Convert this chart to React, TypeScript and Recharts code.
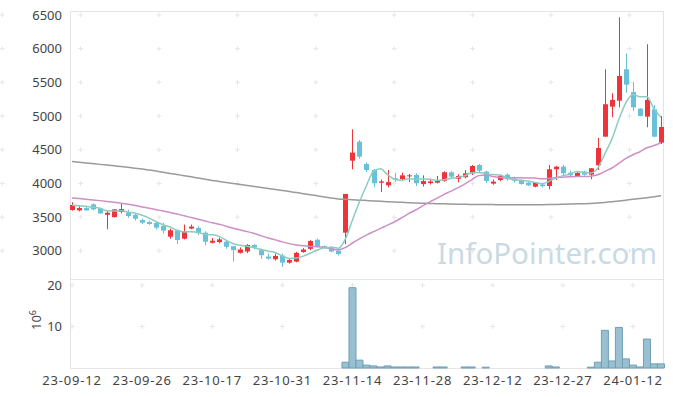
import React from "react";
import {
  ComposedChart,
  Bar,
  Line,
  Scatter,
  XAxis,
  YAxis,
} from "recharts";

// trading days (KRX calendar), one candle each
const dates = [
  "23-09-12", "23-09-13", "23-09-14", "23-09-15", "23-09-18", "23-09-19", "23-09-20", "23-09-21", "23-09-22", "23-09-25",
  "23-09-26", "23-09-27", "23-10-04", "23-10-05", "23-10-06", "23-10-10", "23-10-11", "23-10-12", "23-10-13", "23-10-16",
  "23-10-17", "23-10-18", "23-10-19", "23-10-20", "23-10-23", "23-10-24", "23-10-25", "23-10-26", "23-10-27", "23-10-30",
  "23-10-31", "23-11-01", "23-11-02", "23-11-03", "23-11-06", "23-11-07", "23-11-08", "23-11-09", "23-11-10", "23-11-13",
  "23-11-14", "23-11-15", "23-11-16", "23-11-17", "23-11-20", "23-11-21", "23-11-22", "23-11-23", "23-11-24", "23-11-27",
  "23-11-28", "23-11-29", "23-11-30", "23-12-01", "23-12-04", "23-12-05", "23-12-06", "23-12-07", "23-12-08", "23-12-11",
  "23-12-12", "23-12-13", "23-12-14", "23-12-15", "23-12-18", "23-12-19", "23-12-20", "23-12-21", "23-12-22", "23-12-26",
  "23-12-27", "23-12-28", "24-01-02", "24-01-03", "24-01-04", "24-01-05", "24-01-08", "24-01-09", "24-01-10", "24-01-11",
  "24-01-12", "24-01-15", "24-01-16", "24-01-17", "24-01-18",
];

const opens = [
  3606, 3600, 3635, 3690, 3630, 3535, 3500, 3576, 3565, 3535,
  3457, 3428, 3413, 3370, 3210, 3305, 3180, 3330, 3340, 3270,
  3120, 3130, 3135, 3070, 2970, 2990, 3087, 3010, 2915, 2875,
  2930, 2825, 2840, 2983, 3030, 3165, 3070, 3060, 3003, 3270,
  4338, 4620, 4289, 4200, 4010, 3973, 4077, 4062, 4110, 4125,
  3990, 4005, 4012, 4040, 4166, 4070, 4092, 4150, 4274, 4175,
  3997, 4052, 4130, 4072, 4052, 4012, 3952, 3985, 3962, 4210,
  4249, 4160, 4110, 4175, 4130, 4270, 4694, 5140, 5228, 5694,
  5357, 5110, 4991, 5100, 4605,
];

const closes = [
  3680, 3635, 3600, 3615, 3555, 3565, 3615, 3620, 3517, 3477,
  3418, 3398, 3344, 3300, 3305, 3160, 3290, 3360, 3260, 3135,
  3150, 3170, 3060, 3010, 3020, 3087, 3050, 2935, 2885, 2925,
  2825, 2865, 2970, 3020, 3145, 3060, 3040, 2990, 2953, 3844,
  4457, 4397, 4200, 4003, 4030, 4020, 4050, 4120, 4120, 4003,
  4035, 4030, 4040, 4166, 4100, 4110, 4150, 4259, 4190, 4037,
  4027, 4110, 4062, 4042, 3992, 3973, 4012, 3960, 4210, 4249,
  4150, 4120, 4155, 4130, 4225, 4526, 5175, 5240, 5595, 5466,
  5130, 5001, 5240, 4694, 4838,
];

const highs = [
  3720, 3660, 3655, 3705, 3645, 3590, 3620, 3695, 3610, 3560,
  3480, 3450, 3428, 3413, 3330, 3320, 3390, 3390, 3365, 3290,
  3190, 3195, 3160, 3070, 3050, 3100, 3100, 3030, 2960, 2960,
  2960, 2890, 2985, 3040, 3160, 3180, 3080, 3070, 3010, 3844,
  4804, 4645, 4310, 4215, 4060, 4200, 4160, 4160, 4140, 4150,
  4120, 4070, 4110, 4180, 4180, 4136, 4200, 4274, 4289, 4190,
  4060, 4136, 4150, 4100, 4062, 4022, 4022, 4010, 4274, 4260,
  4274, 4190, 4170, 4190, 4230, 4675, 5694, 5338, 6466, 5932,
  5506, 5115, 6065, 5164, 5001,
];

const lows = [
  3596, 3585, 3595, 3600, 3550, 3320, 3497, 3555, 3490, 3450,
  3400, 3385, 3315, 3255, 3180, 3100, 3170, 3320, 3235, 3080,
  3110, 3110, 3030, 2840, 2960, 2965, 3020, 2880, 2870, 2855,
  2760, 2810, 2830, 2970, 3010, 3050, 3035, 2980, 2930, 3100,
  4210, 4367, 4170, 3943, 3873, 3943, 4022, 4050, 4020, 3962,
  3955, 3985, 4000, 4025, 4080, 4017, 4077, 4125, 4170, 4003,
  3982, 4032, 4040, 4012, 3982, 3962, 3942, 3940, 3913, 4052,
  4125, 4110, 4100, 4115, 4062, 4200, 4694, 4982, 5130, 5347,
  5071, 4995, 4833, 4685, 4586,
];

// volume in millions of shares
const volumes = [
  0, 0, 0, 0, 0, 0, 0, 0, 0, 0,
  0, 0, 0, 0, 0, 0, 0, 0, 0, 0,
  0, 0, 0, 0, 0, 0, 0, 0, 0, 0,
  0, 0, 0, 0, 0, 0, 0, 0, 0, 1.4,
  19.4, 1.9, 0.7, 0.5, 0.25, 0.5, 0.25, 0.25, 0.25, 0.25,
  0, 0, 0.25, 0.25, 0, 0, 0.25, 0.25, 0, 0.2,
  0, 0, 0, 0, 0, 0, 0, 0, 0.5, 0.25,
  0, 0, 0, 0, 0.2, 1.4, 9.1, 1.7, 9.8, 2.2,
  0.7, 0.25, 7.0, 1.0, 1.0,
];

const ma5 = [
  3676, 3670, 3660, 3648, 3630, 3594, 3590, 3594, 3574, 3559,
  3529, 3486, 3431, 3387, 3353, 3301, 3280, 3283, 3275, 3241,
  3239, 3215, 3155, 3105, 3082, 3069, 3045, 3020, 2995, 2976,
  2924, 2887, 2894, 2921, 2965, 3012, 3047, 3051, 3038, 3177,
  3457, 3728, 3970, 4180, 4217, 4130, 4061, 4045, 4068, 4063,
  4066, 4062, 4046, 4055, 4074, 4089, 4113, 4157, 4162, 4149,
  4133, 4125, 4085, 4056, 4047, 4036, 4016, 3996, 4029, 4081,
  4116, 4138, 4177, 4161, 4156, 4231, 4442, 4659, 4952, 5200,
  5321, 5286, 5286, 5106, 4981,
];

const ma20 = [
  3784, 3775, 3766, 3756, 3745, 3733, 3720, 3706, 3690, 3672,
  3652, 3632, 3611, 3590, 3568, 3545, 3520, 3494, 3468, 3442,
  3416, 3393, 3366, 3335, 3309, 3285, 3257, 3222, 3191, 3163,
  3133, 3107, 3088, 3074, 3066, 3061, 3049, 3030, 3015, 3050,
  3116, 3177, 3234, 3284, 3334, 3381, 3431, 3490, 3552, 3606,
  3666, 3724, 3778, 3835, 3883, 3935, 3991, 4054, 4116, 4126,
  4104, 4090, 4083, 4085, 4083, 4081, 4079, 4071, 4075, 4088,
  4093, 4098, 4104, 4102, 4108, 4129, 4180, 4229, 4300, 4371,
  4426, 4471, 4530, 4562, 4604,
];

const ma120 = [
  4325, 4315, 4305, 4294, 4283, 4272, 4261, 4250, 4239, 4227,
  4215, 4199, 4183, 4166, 4149, 4132, 4115, 4098, 4080, 4062,
  4045, 4030, 4015, 4000, 3985, 3970, 3955, 3940, 3925, 3910,
  3895, 3880, 3864, 3848, 3832, 3816, 3800, 3785, 3770, 3764,
  3758, 3752, 3746, 3740, 3735, 3730, 3725, 3720, 3715, 3710,
  3706, 3703, 3700, 3697, 3695, 3693, 3691, 3689, 3688, 3687,
  3686, 3685, 3684, 3684, 3683, 3683, 3683, 3684, 3686, 3688,
  3691, 3694, 3697, 3700, 3704, 3710, 3718, 3728, 3740, 3752,
  3764, 3776, 3789, 3803, 3818,
];

const priceTicks = [3000, 3500, 4000, 4500, 5000, 5500, 6000, 6500];
const volumeTicks = [10, 20];
const dateTicks = [0, 10, 20, 30, 40, 50, 60, 70, 80];

const RED = "#ef3439";
const BLUE = "#69c0d8";
const X_DOMAIN: [number, number] = [-0.286, 84.286];
const PRICE_DOMAIN: [number, number] = [2582, 6559];
const VOLUME_DOMAIN: [number, number] = [0, 21.5];
const FONT = "'Noto Sans', sans-serif";

const rows = dates.map((date, i) => ({
  i,
  date,
  open: opens[i],
  close: closes[i],
  high: highs[i],
  low: lows[i],
  range: [lows[i], highs[i]],
  vol: volumes[i],
  ma5: ma5[i],
  ma20: ma20[i],
  ma120: ma120[i],
}));

// grid marks: small "+" at every tick crossing
const priceCrosses = dateTicks.flatMap((i) => priceTicks.map((v) => ({ i, v })));
const volumeCrosses = dateTicks.flatMap((i) => volumeTicks.map((v) => ({ i, v })));

const Candle = (props: any) => {
  const { x, y, width, height, payload } = props;
  if (!payload || x == null) return null;
  const { open, close, high, low } = payload;
  const color = close >= open ? RED : BLUE;
  const k = height / (high - low || 1);
  const yO = y + (high - open) * k;
  const yC = y + (high - close) * k;
  const top = Math.min(yO, yC);
  const bh = Math.max(1, Math.abs(yO - yC));
  const cx = Math.round(x + width / 2) + 0.5;
  return (
    <g>
      <line x1={cx} x2={cx} y1={y} y2={y + height} stroke={color} strokeWidth={1} />
      <rect x={cx - width / 2} y={top} width={width} height={bh} fill={color} />
    </g>
  );
};

const Cross = (props: any) => {
  const { cx, cy } = props;
  if (cx == null || cy == null) return <g />;
  return (
    <path
      d={`M${cx - 2.5},${cy}H${cx + 2.5}M${cx},${cy - 2.5}V${cy + 2.5}`}
      stroke="#e6e6e6"
      strokeWidth={1}
      fill="none"
    />
  );
};

const tickStyle = { fontSize: 13, fill: "#444", fontFamily: FONT };
const layer = (top: number): React.CSSProperties => ({ position: "absolute", left: 0, top });

export default function App() {
  return (
    <div
      style={{
        position: "absolute",
        left: 0,
        top: 0,
        width: 673,
        height: 397,
        background: "#fff",
        overflow: "hidden",
      }}
    >
      {/* frame + pane divider */}
      <div
        style={{
          position: "absolute",
          left: 70,
          top: 11,
          width: 594,
          height: 358,
          border: "1px solid #e4e4e4",
          boxSizing: "border-box",
        }}
      />
      <div
        style={{
          position: "absolute",
          left: 70,
          top: 279,
          width: 594,
          height: 1,
          background: "#e4e4e4",
        }}
      />
      <div
        style={{
          position: "absolute",
          left: 437,
          top: 238,
          fontSize: 29.5,
          lineHeight: 1,
          color: "#c9dae4",
          fontFamily: FONT,
          whiteSpace: "nowrap",
        }}
      >
        InfoPointer.com
      </div>
      <div
        style={{
          position: "absolute",
          left: 13,
          top: 312,
          width: 40,
          height: 16,
          lineHeight: "16px",
          textAlign: "center",
          fontSize: 13,
          color: "#444",
          fontFamily: FONT,
          transform: "rotate(-90deg)",
        }}
      >
        10<sup style={{ fontSize: 9 }}>6</sup>
      </div>

      {/* grid crosses sit in their own layer, under the marks */}
      <div style={layer(0)}>
        <ComposedChart
          width={673}
          height={280}
          data={rows}
          margin={{ top: 11, right: 10, bottom: 1, left: 0 }}
        >
          <XAxis dataKey="i" type="number" domain={X_DOMAIN} hide />
          <YAxis domain={PRICE_DOMAIN} width={70} hide />
          <Scatter data={priceCrosses} dataKey="v" shape={Cross} isAnimationActive={false} />
        </ComposedChart>
      </div>
      <div style={layer(269)}>
        <ComposedChart
          width={673}
          height={128}
          data={rows}
          margin={{ top: 10, right: 10, bottom: 29, left: 70 }}
        >
          <XAxis dataKey="i" type="number" domain={X_DOMAIN} hide />
          <YAxis domain={VOLUME_DOMAIN} hide />
          <Scatter data={volumeCrosses} dataKey="v" shape={Cross} isAnimationActive={false} />
        </ComposedChart>
      </div>

      <div style={layer(0)}>
        <ComposedChart
          width={673}
          height={280}
          data={rows}
          margin={{ top: 11, right: 10, bottom: 1, left: 0 }}
        >
          <XAxis dataKey="i" type="number" domain={X_DOMAIN} hide />
          <YAxis
            domain={PRICE_DOMAIN}
            ticks={priceTicks}
            interval={0}
            width={70}
            tickLine={false}
            axisLine={false}
            tick={tickStyle}
          />
          <Line
            dataKey="ma120"
            type="monotone"
            stroke="#9a9a9a"
            strokeWidth={1.5}
            dot={false}
            isAnimationActive={false}
          />
          <Line
            dataKey="ma20"
            type="monotone"
            stroke="#cc8fc6"
            strokeWidth={1.5}
            dot={false}
            isAnimationActive={false}
          />
          <Bar
            dataKey="range"
            barSize={5}
            shape={Candle}
            isAnimationActive={false}
          />
          <Line
            dataKey="ma5"
            type="monotone"
            stroke="#8ccbc0"
            strokeWidth={1.5}
            dot={false}
            isAnimationActive={false}
          />
        </ComposedChart>
      </div>

      <div style={layer(269)}>
        <ComposedChart
          width={673}
          height={128}
          data={rows}
          margin={{ top: 10, right: 10, bottom: 0, left: 0 }}
        >
          <XAxis
            dataKey="i"
            type="number"
            domain={X_DOMAIN}
            ticks={dateTicks}
            interval={0}
            tickFormatter={(v: number) => dates[v]}
            height={29}
            tickLine={false}
            axisLine={false}
            tick={{ ...tickStyle, letterSpacing: 0.8 }}
          />
          <YAxis
            domain={VOLUME_DOMAIN}
            ticks={volumeTicks}
            interval={0}
            width={70}
            tickLine={false}
            axisLine={false}
            tick={tickStyle}
          />
          <Bar
            dataKey="vol"
            barSize={7}
            fill="#99c0d0"
            stroke="#6f9fb5"
            strokeWidth={1}
            isAnimationActive={false}
          />
        </ComposedChart>
      </div>
    </div>
  );
}
